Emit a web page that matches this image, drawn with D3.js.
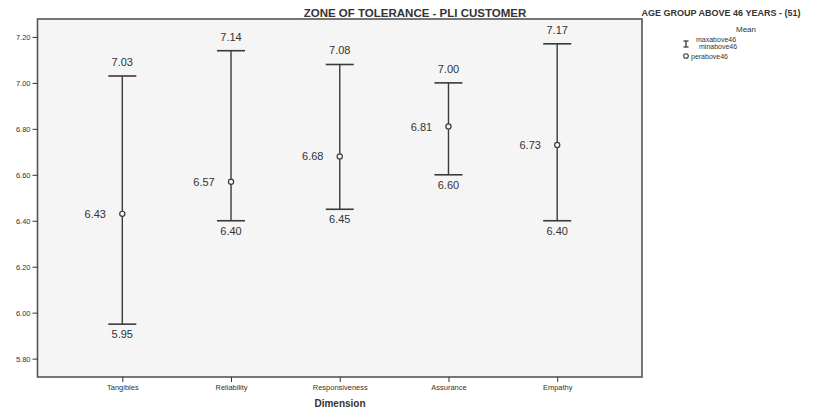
<!DOCTYPE html>
<html>
<head>
<meta charset="utf-8">
<script src="https://cdn.jsdelivr.net/npm/d3@7"></script>
<style>
  body { margin: 0; background: #fff; }
  svg text { font-family: "Liberation Sans", Arial, sans-serif; }
</style>
</head>
<body>
<div id="chart"></div>
<script>
// data
const dimensions = ["Tangibles", "Reliability", "Responsiveness", "Assurance", "Empathy"];
const maxValues = [7.03, 7.14, 7.08, 7.00, 7.17];
const minValues = [5.95, 6.40, 6.45, 6.60, 6.40];
const meanValues = [6.43, 6.57, 6.68, 6.81, 6.73];
const yTicks = [5.80, 6.00, 6.20, 6.40, 6.60, 6.80, 7.00, 7.20];

const W = 825, H = 412;
const plot = { left: 37.5, top: 19, right: 642, bottom: 377 };

const svg = d3.select("#chart").append("svg")
    .attr("width", W)
    .attr("height", H);

const x = d3.scalePoint()
    .domain(dimensions)
    .range([plot.left, plot.right])
    .padding(0.78);

const y = d3.scaleLinear()
    .domain([5.72, 7.278])
    .range([plot.bottom, plot.top]);

// plot background + frame
svg.append("rect")
    .attr("x", plot.left)
    .attr("y", plot.top)
    .attr("width", plot.right - plot.left)
    .attr("height", plot.bottom - plot.top)
    .attr("fill", "#f5f5f5")
    .attr("stroke", "#555")
    .attr("stroke-width", 1.6);

// axes
const yAxis = svg.append("g")
    .attr("transform", "translate(" + plot.left + ",0)")
    .attr("color", "#333")
    .call(d3.axisLeft(y).tickValues(yTicks).tickFormat(d3.format(".2f")).tickSize(5).tickPadding(2));
yAxis.select(".domain").remove();
yAxis.selectAll("text").attr("font-size", 7.5);

const xAxis = svg.append("g")
    .attr("transform", "translate(0," + plot.bottom + ")")
    .attr("color", "#333")
    .call(d3.axisBottom(x).tickSize(5).tickPadding(3));
xAxis.select(".domain").remove();
xAxis.selectAll("text").attr("font-size", 7.5);

// titles
svg.append("text")
    .attr("x", 415).attr("y", 17)
    .attr("text-anchor", "middle")
    .attr("font-size", 11.5).attr("font-weight", "bold").attr("fill", "#333")
    .text("ZONE OF TOLERANCE - PLI CUSTOMER");

svg.append("text")
    .attr("x", 721).attr("y", 16)
    .attr("text-anchor", "middle")
    .attr("font-size", 9).attr("font-weight", "bold").attr("fill", "#333")
    .text("AGE GROUP ABOVE 46 YEARS - (51)");

svg.append("text")
    .attr("x", 340).attr("y", 407)
    .attr("text-anchor", "middle")
    .attr("font-size", 10).attr("font-weight", "bold").attr("fill", "#333")
    .text("Dimension");

// error bars
const rows = dimensions.map((d, i) => ({ dim: d, max: maxValues[i], min: minValues[i], mean: meanValues[i] }));
const capW = 14;
const ink = "#3a3a3a";

const g = svg.append("g");
const bars = g.selectAll(".bar").data(rows).enter().append("g").attr("class", "bar");

bars.append("line")
    .attr("x1", d => x(d.dim)).attr("x2", d => x(d.dim))
    .attr("y1", d => y(d.max)).attr("y2", d => y(d.min))
    .attr("stroke", ink).attr("stroke-width", 1.4);

bars.append("line")
    .attr("x1", d => x(d.dim) - capW).attr("x2", d => x(d.dim) + capW)
    .attr("y1", d => y(d.max)).attr("y2", d => y(d.max))
    .attr("stroke", ink).attr("stroke-width", 1.6);

bars.append("line")
    .attr("x1", d => x(d.dim) - capW).attr("x2", d => x(d.dim) + capW)
    .attr("y1", d => y(d.min)).attr("y2", d => y(d.min))
    .attr("stroke", ink).attr("stroke-width", 1.6);

bars.append("circle")
    .attr("cx", d => x(d.dim)).attr("cy", d => y(d.mean))
    .attr("r", 2.6)
    .attr("fill", "#f5f5f5").attr("stroke", ink).attr("stroke-width", 1.2);

// value labels
bars.append("text")
    .attr("x", d => x(d.dim)).attr("y", d => y(d.max) - 10)
    .attr("text-anchor", "middle").attr("font-size", 11).attr("fill", "#333")
    .text(d => d.max.toFixed(2));

bars.append("text")
    .attr("x", d => x(d.dim)).attr("y", d => y(d.min) + 14)
    .attr("text-anchor", "middle").attr("font-size", 11).attr("fill", "#333")
    .text(d => d.min.toFixed(2));

bars.append("text")
    .attr("x", d => x(d.dim) - 27).attr("y", d => y(d.mean) + 4)
    .attr("text-anchor", "middle").attr("font-size", 11).attr("fill", "#333")
    .text(d => d.mean.toFixed(2));

// legend
const lg = svg.append("g").attr("transform", "translate(684,0)");
lg.append("text").attr("x", 62).attr("y", 32)
    .attr("text-anchor", "middle").attr("font-size", 8).attr("fill", "#333").text("Mean");
lg.append("line").attr("x1", 2).attr("x2", 2).attr("y1", 41).attr("y2", 47).attr("stroke", ink).attr("stroke-width", 1.3);
lg.append("line").attr("x1", -0.5).attr("x2", 4.5).attr("y1", 41).attr("y2", 41).attr("stroke", ink).attr("stroke-width", 1.3);
lg.append("line").attr("x1", -0.5).attr("x2", 4.5).attr("y1", 47).attr("y2", 47).attr("stroke", ink).attr("stroke-width", 1.3);
lg.append("text").attr("x", 12).attr("y", 42).attr("font-size", 7).attr("fill", "#333").text("maxabove46");
lg.append("text").attr("x", 15).attr("y", 49).attr("font-size", 7).attr("fill", "#333").text("minabove46");
lg.append("circle").attr("cx", 2).attr("cy", 56).attr("r", 2.3)
    .attr("fill", "#fff").attr("stroke", ink).attr("stroke-width", 1.1);
lg.append("text").attr("x", 7).attr("y", 58.5).attr("font-size", 7).attr("fill", "#333").text("perabove46");
</script>
</body>
</html>
